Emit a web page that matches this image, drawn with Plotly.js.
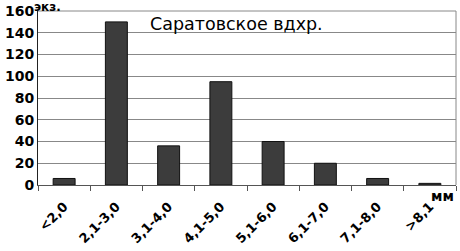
<!DOCTYPE html>
<html><head><meta charset="utf-8">
<script src="https://cdn.plot.ly/plotly-3.0.1.min.js"></script>
<style>html,body{margin:0;padding:0;background:#fff}</style>
</head><body>
<div id="chart" style="width:460px;height:251px"></div>
<script>
const categories = ["<2,0","2,1-3,0","3,1-4,0","4,1-5,0","5,1-6,0","6,1-7,0","7,1-8,0",">8,1"];
const counts = [6,150,36,95,40,20,6,1.5];
const yTicks = [0,20,40,60,80,100,120,140,160];
const titleText = "Саратовское вдхр.";
const yUnit = "экз.";
const xUnit = "мм";

const boldFont = {family:"DejaVu Sans", size:14, color:"#000", weight:"bold"};
const xFont = {family:"DejaVu Sans", size:13, color:"#000", weight:"bold"};

Plotly.newPlot("chart", [{
  type:"bar", x:categories, y:counts,
  marker:{color:"#3c3c3c", line:{color:"#111", width:1}},
  width:0.42
}], {
  width:460, height:251,
  margin:{l:38, r:4, t:11, b:66},
  paper_bgcolor:"#fff", plot_bgcolor:"#fff",
  showlegend:false,
  xaxis:{
    type:"category", tickangle:-45, tickfont:xFont, ticklabelstandoff:8,
    ticks:"outside", tickson:"boundaries", ticklen:5, tickcolor:"#555",
    showline:true, linecolor:"#555", linewidth:1, mirror:false,
    showgrid:false, zeroline:false, automargin:false
  },
  yaxis:{
    range:[0,160], tickvals:yTicks, ticktext:yTicks.map(String),
    tickfont:boldFont, ticks:"",
    showline:true, linecolor:"#222", linewidth:1,
    gridcolor:"#888", gridwidth:1, zeroline:false
  },
  shapes:[
    {type:"line", xref:"paper", yref:"paper", x0:1, x1:1, y0:0, y1:1, line:{color:"#888", width:1}},
    {type:"line", xref:"paper", yref:"paper", x0:0, x1:1, y0:1, y1:1, line:{color:"#888", width:1}}
  ],
  annotations:[
    {text:titleText, xref:"paper", yref:"paper", x:0.262, y:0.995, xanchor:"left", yanchor:"top",
     showarrow:false, font:{family:"DejaVu Sans", size:17.5, color:"#000"}},
    {text:yUnit, xref:"paper", yref:"paper", x:-0.015, y:1.0, xanchor:"left", yanchor:"bottom",
     showarrow:false, font:{family:"DejaVu Sans", size:12, color:"#000", weight:"bold"}, yshift:-5},
    {text:xUnit, xref:"paper", yref:"paper", x:1.0, y:0, xanchor:"right", yanchor:"top",
     showarrow:false, font:boldFont, yshift:-1}
  ]
}, {displayModeBar:false, staticPlot:true});
</script>
</body></html>
